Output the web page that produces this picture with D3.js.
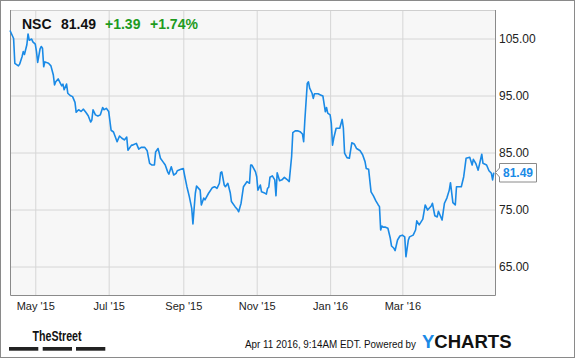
<!DOCTYPE html>
<html>
<head>
<meta charset="utf-8">
<script src="https://cdn.jsdelivr.net/npm/d3@7/dist/d3.min.js"></script>
<style>
  html, body { margin: 0; padding: 0; background: #fff; }
  svg { display: block; font-family: "Liberation Sans", Arial, sans-serif; }
</style>
</head>
<body>
<svg id="chart" width="575" height="358"></svg>
<script>
// NSC daily close: [days since start, price]
const startDate = new Date(2015, 3, 10);
const endDate = new Date(2016, 4, 17);
const closes = [
  [0,106.4],[3,105.0],[4,100.65],[7,100.2],[8,100.5],[10,101.8],[11,102.7],[12,102.2],[14,103.9],[15,105.8],
  [16,104.7],[18,104.9],[19,104.4],[21,104.0],[22,102.7],[23,100.8],[25,103.2],[26,103.6],[27,103.3],[28,100.05],
  [29,100.9],[32,100.65],[34,100.2],[36,98.6],[37,96.85],[38,97.4],[40,97.9],[42,97.1],[43,96.7],[44,97.0],
  [45,96.0],[47,97.0],[48,95.4],[50,95.0],[52,94.8],[54,93.8],[55,92.05],[57,92.5],[59,92.2],[61,92.6],
  [63,92.05],[65,91.45],[67,90.35],[68,90.7],[69,92.5],[71,91.6],[73,91.4],[75,91.6],[77,92.9],[78,92.5],
  [80,92.75],[82,92.2],[84,88.9],[86,88.6],[89,86.9],[91,87.9],[93,87.5],[95,87.2],[97,87.7],[98,85.4],
  [101,86.3],[102,86.3],[105,86.6],[107,85.6],[109,85.9],[112,85.9],[114,85.3],[116,83.1],[118,82.8],[120,82.8],
  [121,85.1],[123,85.7],[124,84.9],[125,84.0],[127,83.4],[129,82.8],[131,81.6],[132,81.2],[134,82.5],[136,81.05],
  [138,81.35],[139,81.8],[142,82.05],[144,82.2],[145,81.05],[147,79.0],[149,77.25],[151,75.2],[152,72.45],[153,75.2],
  [154,77.85],[155,79.1],[158,78.4],[159,75.8],[161,77.0],[162,76.7],[165,77.85],[168,78.8],[170,79.0],[172,78.7],
  [174,79.6],[175,81.45],[176,81.6],[178,79.3],[179,79.0],[181,79.6],[183,77.95],[184,76.4],[187,75.5],[189,75.0],
  [190,74.6],[192,76.1],[194,79.0],[195,79.3],[197,79.9],[199,79.6],[200,82.8],[201,82.8],[204,81.6],[205,80.75],
  [206,78.4],[208,79.3],[209,78.1],[211,77.95],[213,77.7],[214,78.7],[215,78.9],[216,80.65],[218,80.9],[220,80.2],
  [221,77.4],[222,81.45],[223,80.75],[224,80.05],[226,80.2],[228,80.65],[230,80.3],[232,79.9],[234,84.3],[235,88.5],
  [237,88.8],[239,88.8],[241,88.65],[243,88.25],[244,86.9],[245,90.7],[247,97.1],[248,97.4],[249,96.3],[251,95.4],
  [252,94.5],[253,95.3],[256,95.3],[258,95.1],[260,94.9],[262,92.15],[263,92.9],[264,91.9],[266,91.6],[267,90.1],
  [268,86.3],[269,87.5],[271,89.25],[274,89.25],[276,90.8],[277,89.3],[278,84.9],[280,84.1],[282,84.0],[284,86.7],
  [286,86.5],[288,85.7],[291,85.3],[293,84.6],[295,83.4],[296,82.2],[298,82.05],[300,78.1],[302,77.4],[304,76.5],
  [306,75.8],[307,75.5],[308,71.4],[309,72.1],[310,71.9],[312,71.9],[314,71.7],[316,69.95],[317,68.6],[319,68.2],
  [320,67.8],[322,69.65],[324,70.35],[326,70.5],[328,70.2],[329,66.7],[331,69.65],[332,70.2],[335,70.5],[337,71.4],
  [338,73.0],[340,72.3],[343,73.3],[345,75.8],[347,74.9],[350,75.6],[351,76.1],[353,73.9],[355,73.7],[356,74.7],
  [359,73.15],[361,76.1],[363,77.0],[365,78.4],[366,79.7],[368,76.2],[370,75.8],[371,79.0],[375,79.0],[377,80.75],
  [379,84.0],[382,84.15],[384,82.8],[385,83.8],[387,83.1],[389,81.9],[392,84.7],[393,83.1],[396,82.8],[398,81.8],
  [400,81.35],[401,80.2],[402,81.49]
];
const xTickDates = [
  new Date(2015, 4, 1), new Date(2015, 6, 1), new Date(2015, 8, 1),
  new Date(2015, 10, 1), new Date(2016, 0, 1), new Date(2016, 2, 1)
];
const yTicks = [65, 75, 85, 95, 105];
const yDomain = [60, 110];
const header = [
  {text: 'NSC', color: '#111'},
  {text: '81.49', color: '#111'},
  {text: '+1.39', color: '#1e9b1e'},
  {text: '+1.74%', color: '#1e9b1e'}
];
const lastPrice = '81.49';
const timestamp = 'Apr 11 2016, 9:14AM EDT. Powered by';

const W = 575, H = 358;
const plot = {left: 10, top: 10, right: 495, bottom: 295};
const lineColor = '#1a8ae6';

const data = closes.map(d => ({date: d3.timeDay.offset(startDate, d[0]), value: d[1]}));

const svg = d3.select('#chart');

// outer frame
svg.append('rect')
    .attr('x', 0.5).attr('y', 0.5)
    .attr('width', W - 1).attr('height', H - 1)
    .attr('fill', '#fff')
    .attr('stroke', '#8a8a8a');

const x = d3.scaleTime().domain([startDate, endDate]).range([plot.left, plot.right]);
const y = d3.scaleLinear().domain(yDomain).range([plot.bottom, plot.top]);

// plot background
svg.append('rect')
    .attr('x', plot.left).attr('y', plot.top)
    .attr('width', plot.right - plot.left).attr('height', plot.bottom - plot.top)
    .attr('fill', '#f7f7f7');

// grid lines
svg.append('g')
    .attr('transform', `translate(0,${plot.bottom})`)
    .call(d3.axisBottom(x).tickValues(xTickDates).tickSize(-(plot.bottom - plot.top)).tickFormat(''))
    .call(g => g.select('.domain').remove())
    .call(g => g.selectAll('line').attr('stroke', '#d6d6d6'));

svg.append('g')
    .attr('transform', `translate(${plot.left},0)`)
    .call(d3.axisLeft(y).tickValues(yTicks).tickSize(-(plot.right - plot.left)).tickFormat(''))
    .call(g => g.select('.domain').remove())
    .call(g => g.selectAll('line').attr('stroke', '#d6d6d6'));

// plot border
svg.append('line')
    .attr('x1', plot.left).attr('x2', plot.right)
    .attr('y1', plot.top + 0.5).attr('y2', plot.top + 0.5)
    .attr('stroke', '#cfcfcf');
svg.append('path')
    .attr('d', `M${plot.left + 0.5},${plot.top}V${plot.bottom + 0.5}H${plot.right + 0.5}V${plot.top}`)
    .attr('fill', 'none')
    .attr('stroke', '#8a8a8a');

// axis labels
svg.append('g')
    .attr('transform', `translate(0,${plot.bottom})`)
    .call(d3.axisBottom(x).tickValues(xTickDates).tickSize(0).tickPadding(7).tickFormat(d3.timeFormat("%b '%y")))
    .call(g => g.select('.domain').remove())
    .call(g => g.selectAll('text')
        .attr('font-family', '"Liberation Sans", Arial, sans-serif')
        .attr('font-size', 11)
        .attr('fill', '#222'));

svg.append('g')
    .attr('transform', `translate(${plot.right},0)`)
    .call(d3.axisRight(y).tickValues(yTicks).tickSize(0).tickPadding(4).tickFormat(d3.format('.2f')))
    .call(g => g.select('.domain').remove())
    .call(g => g.selectAll('text')
        .attr('font-family', '"Liberation Sans", Arial, sans-serif')
        .attr('font-size', 12)
        .attr('fill', '#222'));

// price line
svg.append('path')
    .datum(data)
    .attr('fill', 'none')
    .attr('stroke', lineColor)
    .attr('stroke-width', 1.6)
    .attr('stroke-linejoin', 'round')
    .attr('d', d3.line().x(d => x(d.date)).y(d => y(d.value)));

// last price tag
const last = data[data.length - 1];
const tagY = y(last.value);
const tag = svg.append('g').attr('transform', `translate(${plot.right},${tagY})`);
tag.append('path')
    .attr('d', 'M0.5,0 L4.5,-4.5 V-9 H41.5 V9.5 H4.5 V4.5 Z')
    .attr('fill', '#fff')
    .attr('stroke', '#8a8a8a');
tag.append('text')
    .attr('x', 23).attr('y', 4.5)
    .attr('text-anchor', 'middle')
    .attr('font-size', 12)
    .attr('font-weight', 'bold')
    .attr('fill', lineColor)
    .text(lastPrice);

// header
const headerX = [22, 61, 105, 150];
svg.append('g')
    .selectAll('text')
    .data(header)
    .join('text')
    .attr('x', (d, i) => headerX[i])
    .attr('y', 28.5)
    .attr('font-size', 14)
    .attr('font-weight', 'bold')
    .attr('fill', d => d.color)
    .text(d => d.text);

// footer: TheStreet logo
svg.append('text')
    .attr('x', 32.5).attr('y', 341)
    .attr('font-family', '"Liberation Sans Narrow", "Arial Narrow", "Liberation Sans", sans-serif')
    .attr('font-size', 14)
    .attr('font-weight', 'bold')
    .attr('textLength', 49)
    .attr('lengthAdjust', 'spacingAndGlyphs')
    .attr('fill', '#111')
    .text('TheStreet');
svg.append('g')
    .selectAll('rect')
    .data([9, 42.7, 76])
    .join('rect')
    .attr('x', d => d).attr('y', 347)
    .attr('width', 29.3).attr('height', 3.7)
    .attr('fill', '#222');

// footer: timestamp + YCHARTS
svg.append('text')
    .attr('x', 245).attr('y', 347.5)
    .attr('font-size', 10)
    .attr('textLength', 171)
    .attr('lengthAdjust', 'spacingAndGlyphs')
    .attr('fill', '#111')
    .text(timestamp);
const yc = svg.append('text')
    .attr('x', 422).attr('y', 348.3)
    .attr('font-size', 18.5)
    .attr('font-weight', 'bold')
    .attr('textLength', 89.5)
    .attr('lengthAdjust', 'spacingAndGlyphs');
yc.append('tspan').attr('fill', '#1a8ae6').text('Y');
yc.append('tspan').attr('fill', '#111').text('CHARTS');
</script>
</body>
</html>
